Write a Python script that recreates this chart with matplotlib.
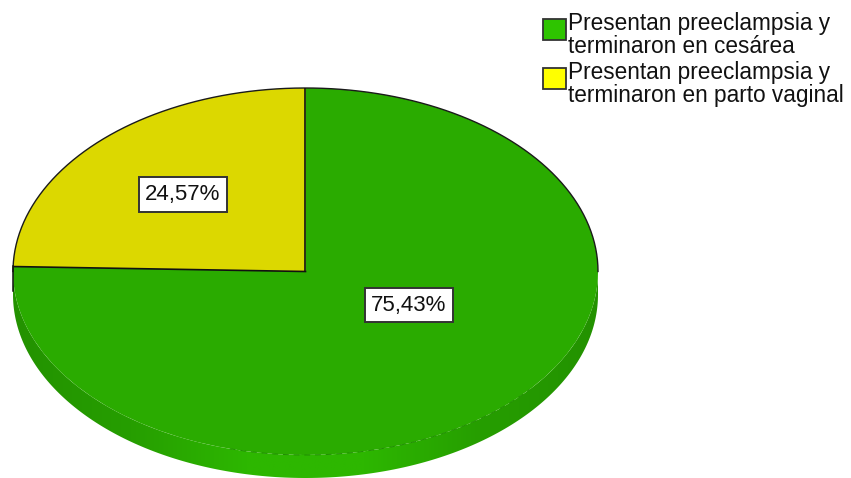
import numpy as np
import matplotlib
matplotlib.use("Agg")
import matplotlib.pyplot as plt
from matplotlib.patches import Patch, Polygon
from matplotlib.colors import LinearSegmentedColormap

plt.rcParams['font.family'] = ['Liberation Sans', 'DejaVu Sans']

# data
categorias = ["Presentan preeclampsia y\nterminaron en cesárea",
              "Presentan preeclampsia y\nterminaron en parto vaginal"]
valores = [75.43, 24.57]
colores = ["#2aab00", "#dcd800"]
colores_leyenda = ["#2ec400", "#ffff00"]
pos_etiquetas = [(0.354, -0.183), (-0.419, 0.42)]

W, H = 851, 478
prof = 23 / 183.5
fig = plt.figure(figsize=(W / 100, H / 100), dpi=100)
ax = fig.add_axes([13 / W, 0, 585 / W, 390 / H])

# pie, turned so the yellow slice starts at the top going left
wedges, _ = ax.pie(valores, colors=colores, startangle=90, counterclock=False,
                   radius=1, wedgeprops=dict(linewidth=0, zorder=3))
ax.set_aspect("auto")

# side wall of the disc with a soft shading
t = np.linspace(np.pi, 2 * np.pi, 200)
borde = np.r_[np.c_[np.cos(t), np.sin(t) - prof], np.c_[np.cos(t[::-1]), np.sin(t[::-1])]]
cm = LinearSegmentedColormap.from_list("pared", ["#239200", "#269e00", "#2db700", "#2db700", "#269e00", "#239200"])
img = ax.imshow(np.linspace(0, 1, 256)[None, :], extent=(-1, 1, -1 - prof, 0), cmap=cm,
                aspect="auto", zorder=2)
img.set_clip_path(Polygon(borde, transform=ax.transData))
ax.set_xlim(-1, 1)
ax.set_ylim(-1 - prof, 1)

# seam between top and wall, only visible at the front
t = np.radians(np.linspace(255, 320, 80))
ax.plot(np.cos(t), np.sin(t), color="#1f8f00", lw=0.7, ls=(0, (6, 5)), zorder=4)

# black outline only round the upper part
ang = np.radians(90 + valores[1] * 3.6)
t = np.linspace(0, np.pi, 300)
ax.plot(np.cos(t), np.sin(t), color="#1a1a1a", lw=1.0, zorder=4, clip_on=False)
ax.plot([0, 0], [1, 0], color="#111111", lw=1.2, zorder=4)
ax.plot([0, np.cos(ang)], [0, np.sin(ang)], color="#111111", lw=1.2, zorder=4)
ax.plot([-1, -1], [0.03, -prof * 0.85], color="#111111", lw=1.1, zorder=4, clip_on=False)

# value labels
for v, (x, y) in zip(valores, pos_etiquetas):
    ax.text(x, y, f"{v:.2f}%".replace(".", ","), fontsize=16, ha="center", va="center", color="#111111", zorder=5,
            bbox=dict(boxstyle="square,pad=0.3", fc="white", ec="#333333", lw=1.4))

handles = [Patch(fc=c, ec="#333333", lw=1.3) for c in colores_leyenda]
leg = fig.legend(handles, categorias, loc="upper left", bbox_to_anchor=(543 / W, 1 - 12 / H), frameon=False,
                 fontsize=16.3, handlelength=1.0, handleheight=1.0, handletextpad=0.12, labelspacing=0.12,
                 borderpad=0, borderaxespad=0, labelcolor="#111111")
for txt in leg.get_texts():
    txt.set_linespacing(1.02)
# swatches sit a little above the middle of their label
for h in leg.legend_handles:
    h.set_y(h.get_y() + 5)

fig.savefig("out.png", dpi=100)
